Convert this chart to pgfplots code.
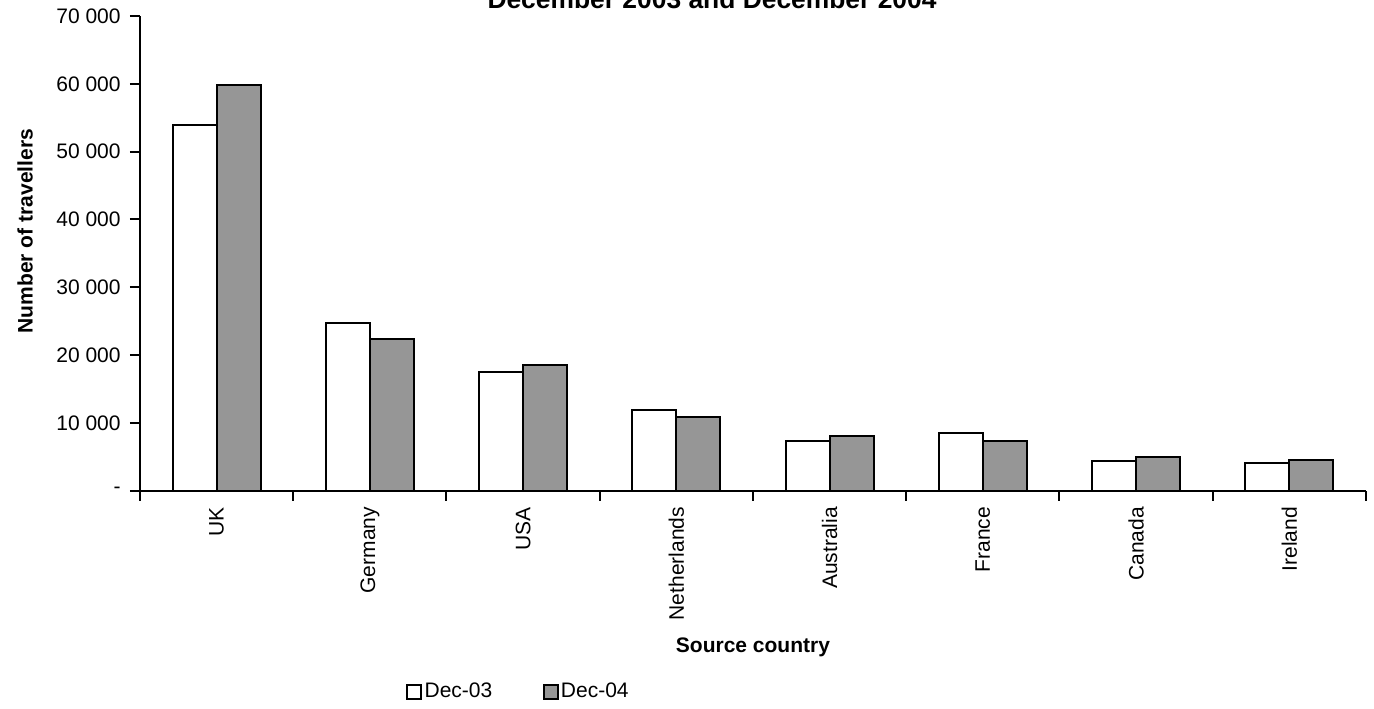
\documentclass[border=0pt]{standalone}
\usepackage{fontspec}
\setmainfont{Liberation Sans}
\usepackage{pgfplots}
\pgfplotsset{compat=1.18}
\definecolor{barg}{RGB}{150,150,150}
\begin{document}
\begin{tikzpicture}
\begin{axis}[
  scale only axis, width=613pt, height=237.35pt,
  xmin=-0.5, xmax=7.5, ymin=0, ymax=70000,
  clip=false,
  scaled y ticks=false,
  axis lines*=left,
  axis line style={line width=1pt},
  every tick/.style={black, line width=1pt},
  tick align=outside,
  major tick length=5pt,
  ytick={0,10000,...,70000},
  yticklabels={-\hspace{12pt},10~000,20~000,30~000,40~000,50~000,60~000,70~000},
  yticklabel style={anchor=east, inner sep=0pt},
  yticklabel shift=4.5pt,
  xtick={-0.5,0.5,...,7.5},
  xticklabels={},
  extra x ticks={0,...,7},
  extra x tick labels={UK,Germany,USA,Netherlands,Australia,France,Canada,Ireland},
  extra x tick style={major tick length=0pt},
  xticklabel style={rotate=90, anchor=east, inner sep=0pt},
  xticklabel shift=8pt,
  tick label style={font=\fontsize{10.5}{12}\selectfont},
  every axis title shift=0pt,
  title={December 2003 and December 2004},
  title style={at={(axis description cs:0.4666,1.01685)}, anchor=base, font=\fontsize{13.2}{15}\bfseries\selectfont},
  ylabel={Number of travellers},
  ylabel style={at={(axis description cs:-0.0938,0.547)}, anchor=center, rotate=0, font=\fontsize{10.5}{12}\bfseries\selectfont},
  xlabel={Source country},
  xlabel style={at={(axis description cs:0.5,-0.3307)}, anchor=center, font=\fontsize{10.5}{12}\bfseries\selectfont},
  legend style={draw=none, at={(axis description cs:0.217,-0.4234)}, anchor=west, inner sep=0pt,
    legend columns=2, font=\fontsize{10.5}{12}\selectfont,
    /tikz/every even column/.append style={column sep=24pt},
    nodes={inner sep=1.2pt}},
  legend cell align=left,
  legend image code/.code={\draw[#1,line width=0.9pt] (0pt,-3.5pt) rectangle (7pt,3.5pt);},
]
\addplot[ybar, bar width=0.287, bar shift=-0.1435, draw=black, fill=white, line width=1pt]
  coordinates {(0,54000) (1,24700) (2,17550) (3,11900) (4,7350) (5,8550) (6,4400) (7,4100)};
\addplot[ybar, bar width=0.287, bar shift=0.1435, draw=black, fill=barg, line width=1pt]
  coordinates {(0,59800) (1,22300) (2,18550) (3,10900) (4,8050) (5,7300) (6,4900) (7,4500)};
\legend{Dec-03,Dec-04}
\end{axis}
\pgfresetboundingbox
\useasboundingbox (-70pt,-108.65pt) rectangle (617pt,245.35pt);
\end{tikzpicture}
\end{document}
